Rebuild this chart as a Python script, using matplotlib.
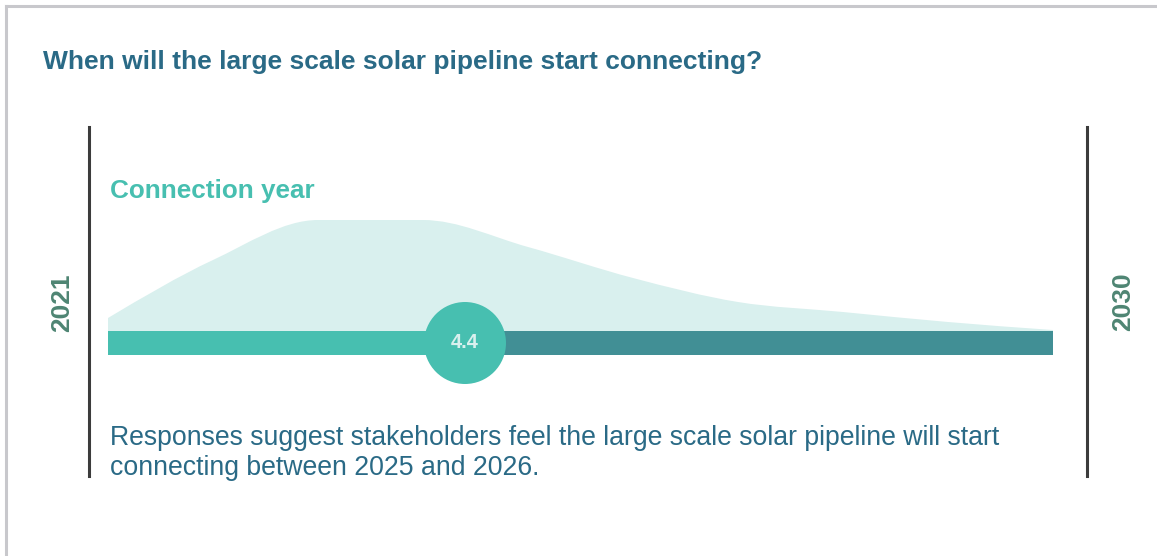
import numpy as np
import matplotlib
matplotlib.use("Agg")
import matplotlib.pyplot as plt
from matplotlib.path import Path
from matplotlib.patches import PathPatch
from matplotlib.lines import Line2D

plt.rcParams['font.family'] = ['Liberation Sans', 'DejaVu Sans']

# ---- data ----
title = "When will the large scale solar pipeline start connecting?"
series_label = "Connection year"
start_label = "2021"
end_label = "2030"
scale_points = [1, 2, 3, 4, 5, 6, 7, 8, 9, 10]
density = [13, 71, 111, 111, 84, 53, 29, 19, 9, 1]
mean_value = 4.4
summary = ("Responses suggest stakeholders feel the large scale solar pipeline will start\n"
           "connecting between 2025 and 2026.")

# ---- colours ----
C_TITLE = "#2a6a86"
C_TEAL = "#47bfb0"
C_DARK = "#418f95"
C_AREA = "#d9f0ee"
C_YEAR = "#4e8573"
C_LINE = "#3c3c3c"
C_BORDER = "#c8c8cc"

W, H = 1157, 556
fig = plt.figure(figsize=(W / 100, H / 100), dpi=100)

# background/layout axes in pixel coordinates
bg = fig.add_axes([0, 0, 1, 1])
bg.set_xlim(0, W)
bg.set_ylim(H, 0)
bg.axis('off')

bg.add_line(Line2D([6, 6], [6, H], color=C_BORDER, lw=2.2))
bg.add_line(Line2D([6, W], [6, 6], color=C_BORDER, lw=2.2))

bg.text(43, 62, title, color=C_TITLE, fontsize=19, fontweight='bold', va='center', ha='left')
bg.add_line(Line2D([89, 89], [127, 476], color=C_LINE, lw=2.2))
bg.add_line(Line2D([1087, 1087], [127, 476], color=C_LINE, lw=2.2))
bg.text(62, 303, start_label, color=C_YEAR, fontsize=19, fontweight='bold', rotation=90,
        ha='center', va='center')
bg.text(1123, 302, end_label, color=C_YEAR, fontsize=19, fontweight='bold', rotation=90,
        ha='center', va='center')
bg.text(110, 453, summary, color=C_TITLE, fontsize=19.2, ha='left', va='center', linespacing=1.2)

# data axes
left, right = 108, 1053
top_px, bot_px = 200, 400
ax = fig.add_axes([left / W, (H - bot_px) / H, (right - left) / W, (bot_px - top_px) / H])
ax.set_xlim(scale_points[0], scale_points[-1])
ax.set_ylim(-(bot_px - 331), 331 - top_px)
ax.axis('off')

# monotone cubic (curveMonotoneX) path through density points
x = np.array(scale_points, float)
y = np.array(density, float)
n = len(x)
h = np.diff(x)
s = np.diff(y) / h
t = np.zeros(n)
for i in range(1, n - 1):
    if s[i - 1] * s[i] <= 0:
        t[i] = 0
    else:
        p = (s[i - 1] * h[i] + s[i] * h[i - 1]) / (h[i - 1] + h[i])
        t[i] = (np.sign(s[i - 1]) + np.sign(s[i])) * min(abs(s[i - 1]), abs(s[i]), 0.5 * abs(p))
t[0] = (3 * s[0] - t[1]) / 2
t[-1] = (3 * s[-1] - t[-2]) / 2
verts = [(x[0], 0), (x[0], y[0])]
codes = [Path.MOVETO, Path.LINETO]
for i in range(n - 1):
    dx = h[i] / 3
    verts += [(x[i] + dx, y[i] + dx * t[i]), (x[i + 1] - dx, y[i + 1] - dx * t[i + 1]), (x[i + 1], y[i + 1])]
    codes += [Path.CURVE4] * 3
verts += [(x[-1], 0), (x[0], 0)]
codes += [Path.LINETO, Path.CLOSEPOLY]
ax.add_patch(PathPatch(Path(verts, codes), facecolor=C_AREA, edgecolor='none', zorder=1))

# bar
bar_h = 24
ax.barh(-bar_h / 2, mean_value - scale_points[0], left=scale_points[0], height=bar_h,
        color=C_TEAL, zorder=2)
ax.barh(-bar_h / 2, scale_points[-1] - mean_value, left=mean_value, height=bar_h,
        color=C_DARK, zorder=2)

# mean marker
ax.scatter([mean_value], [-bar_h / 2], s=(82 * 0.72) ** 2, color=C_TEAL, zorder=3,
           edgecolors='none', clip_on=False)
ax.text(mean_value, -bar_h / 2, f"{mean_value}", color="#d9f0ee", fontsize=14.5,
        fontweight='bold', ha='center', va='center', zorder=4)

# series label
ax.text(1.02, 331 - 191, series_label, color=C_TEAL, fontsize=18.8,
        fontweight='bold', ha='left', va='center')

fig.savefig("out.png", dpi=100)
